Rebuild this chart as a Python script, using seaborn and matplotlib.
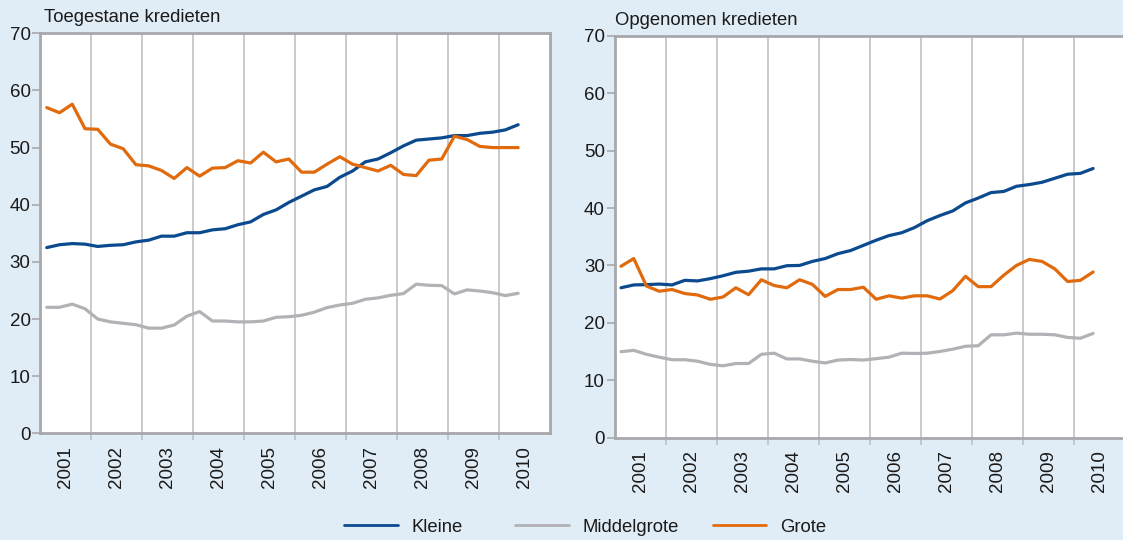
import numpy as np
import pandas as pd
import matplotlib
matplotlib.use("Agg")
import matplotlib.pyplot as plt
from matplotlib.lines import Line2D
import seaborn as sns

# ---------------- data ----------------
years = [str(y) for y in range(2001, 2011)]
quarters = [f"{y}K{q}" for y in range(2001, 2011) for q in range(1, 5)][:38]

series_names = ["Kleine", "Middelgrote", "Grote"]

toeg_kleine = [32.5, 33.0, 33.2, 33.1, 32.7, 32.9, 33.0, 33.5, 33.8, 34.5,
               34.5, 35.1, 35.1, 35.6, 35.8, 36.5, 37.0, 38.3, 39.1, 40.4,
               41.5, 42.6, 43.2, 44.8, 45.9, 47.5, 48.0, 49.1, 50.3, 51.3,
               51.5, 51.7, 52.1, 52.1, 52.5, 52.7, 53.1, 54.0]
toeg_middel = [22.05, 22.05, 22.6, 21.8, 20.0, 19.5, 19.25, 19.0, 18.4, 18.4,
               18.95, 20.5, 21.3, 19.65, 19.65, 19.5, 19.5, 19.65, 20.3, 20.4,
               20.65, 21.2, 22.0, 22.45, 22.75, 23.45, 23.7, 24.15, 24.45, 26.1,
               25.9, 25.85, 24.4, 25.1, 24.9, 24.6, 24.1, 24.5]
toeg_grote = [57.0, 56.1, 57.6, 53.3, 53.2, 50.6, 49.8, 47.0, 46.8, 46.0,
              44.6, 46.5, 45.0, 46.4, 46.5, 47.7, 47.3, 49.2, 47.5, 48.0,
              45.7, 45.7, 47.1, 48.4, 47.1, 46.5, 45.9, 46.9, 45.3, 45.1,
              47.8, 48.0, 52.0, 51.4, 50.2, 50.0, 50.0, 50.0]

opg_kleine = [26.1, 26.6, 26.65, 26.75, 26.6, 27.4, 27.3, 27.7, 28.2, 28.8,
              29.0, 29.4, 29.4, 29.95, 30.0, 30.7, 31.2, 32.05, 32.6, 33.5,
              34.4, 35.2, 35.7, 36.6, 37.8, 38.7, 39.5, 40.9, 41.75, 42.7,
              42.9, 43.8, 44.1, 44.5, 45.2, 45.9, 46.05, 46.9]
opg_middel = [14.96, 15.2, 14.5, 14.0, 13.56, 13.56, 13.3, 12.75, 12.5, 12.9,
              12.9, 14.5, 14.7, 13.7, 13.7, 13.3, 13.0, 13.5, 13.6, 13.5,
              13.75, 14.0, 14.7, 14.65, 14.7, 15.0, 15.4, 15.9, 16.0, 17.9,
              17.9, 18.2, 18.0, 18.0, 17.9, 17.45, 17.3, 18.15]
opg_grote = [29.85, 31.2, 26.4, 25.5, 25.8, 25.1, 24.85, 24.1, 24.5, 26.1,
             24.9, 27.5, 26.5, 26.1, 27.5, 26.7, 24.6, 25.8, 25.8, 26.2,
             24.1, 24.7, 24.3, 24.7, 24.7, 24.15, 25.6, 28.1, 26.3, 26.3,
             28.3, 30.0, 31.05, 30.7, 29.4, 27.2, 27.4, 28.85]

titles = ["Toegestane kredieten", "Opgenomen kredieten"]
yticks = [0, 10, 20, 30, 40, 50, 60, 70]

colors = {"Kleine": "#0b4a8e", "Middelgrote": "#b2b2b6", "Grote": "#e06a0c"}
bg = "#e1edf6"
spine_c = "#a8a8ac"
grid_c = "#bcbcbc"
text_c = "#1a1a1a"


def long_df(k, m, g):
    frames = []
    for name, vals in zip(series_names, [k, m, g]):
        frames.append(pd.DataFrame({"pos": np.arange(len(quarters)),
                                    "kwartaal": quarters,
                                    "serie": name,
                                    "waarde": vals}))
    return pd.concat(frames, ignore_index=True)


dfs = [long_df(toeg_kleine, toeg_middel, toeg_grote),
       long_df(opg_kleine, opg_middel, opg_grote)]

# ---------------- style ----------------
sns.set_theme(style="white")
plt.rcParams["font.family"] = ["Liberation Sans", "DejaVu Sans"]
plt.rcParams["text.color"] = text_c
plt.rcParams["axes.labelcolor"] = text_c
plt.rcParams["xtick.color"] = text_c
plt.rcParams["ytick.color"] = text_c

W, H = 1123, 540
fig = plt.figure(figsize=(W / 100, H / 100), dpi=100, facecolor=bg)

# axes boxes in pixels: (left, top, right, bottom)
boxes = [(40.4, 33.3, 550.0, 433.3), (614.6, 36.0, 1125.0, 437.5)]
title_pos = [(44.0, 21.7), (615.0, 25.0)]

n_bands = 40
year_centers = [4 * i + 1.5 for i in range(len(years))]
boundaries = [4 * i - 0.5 for i in range(1, len(years))]

for idx, (box, df) in enumerate(zip(boxes, dfs)):
    l, t, r, b = box
    ax = fig.add_axes([l / W, 1 - b / H, (r - l) / W, (b - t) / H])
    ax.set_facecolor("white")
    sns.lineplot(data=df, x="pos", y="waarde", hue="serie",
                 hue_order=series_names, palette=colors, linewidth=2.3,
                 legend=False, ax=ax)
    ax.set_xlim(-0.5, n_bands - 0.5)
    ax.set_ylim(0, 70)
    ax.set_yticks(yticks)
    ax.set_yticklabels([str(v) for v in yticks])
    ax.set_xticks(year_centers)
    ax.set_xticklabels(years, rotation=90)
    ax.set_xticks(boundaries, minor=True)
    ax.set_xlabel("")
    ax.set_ylabel("")
    ax.grid(False)
    ax.grid(which="minor", axis="x", color=grid_c, linewidth=1.1)
    ax.set_axisbelow(True)
    for s in ax.spines.values():
        s.set_color(spine_c)
        s.set_linewidth(2.0)
        s.set_visible(True)
    ax.tick_params(axis="y", which="major", length=6, width=1.2,
                   color=spine_c, pad=1, labelsize=13.5, left=True)
    ax.tick_params(axis="x", which="major", length=0, pad=9, labelsize=13.5,
                   bottom=True)
    ax.tick_params(axis="x", which="minor", length=5, width=1.1,
                   color=grid_c, bottom=True)
    tx, ty = title_pos[idx]
    fig.text(tx / W, 1 - ty / H, titles[idx], fontsize=13.3, ha="left",
             va="baseline", color=text_c)

# ---------------- legend ----------------
leg_x = [344.3, 515.0, 712.7]
leg_y = 1 - 527 / H
for name, x in zip(series_names, leg_x):
    h = Line2D([], [], color=colors[name], linewidth=2.0)
    fig.legend([h], [name], loc="center left", bbox_to_anchor=(x / W, leg_y),
               frameon=False, fontsize=13.3, handlelength=2.9,
               handletextpad=0.75, borderpad=0, borderaxespad=0)

fig.savefig("out.png", dpi=100, facecolor=bg)
